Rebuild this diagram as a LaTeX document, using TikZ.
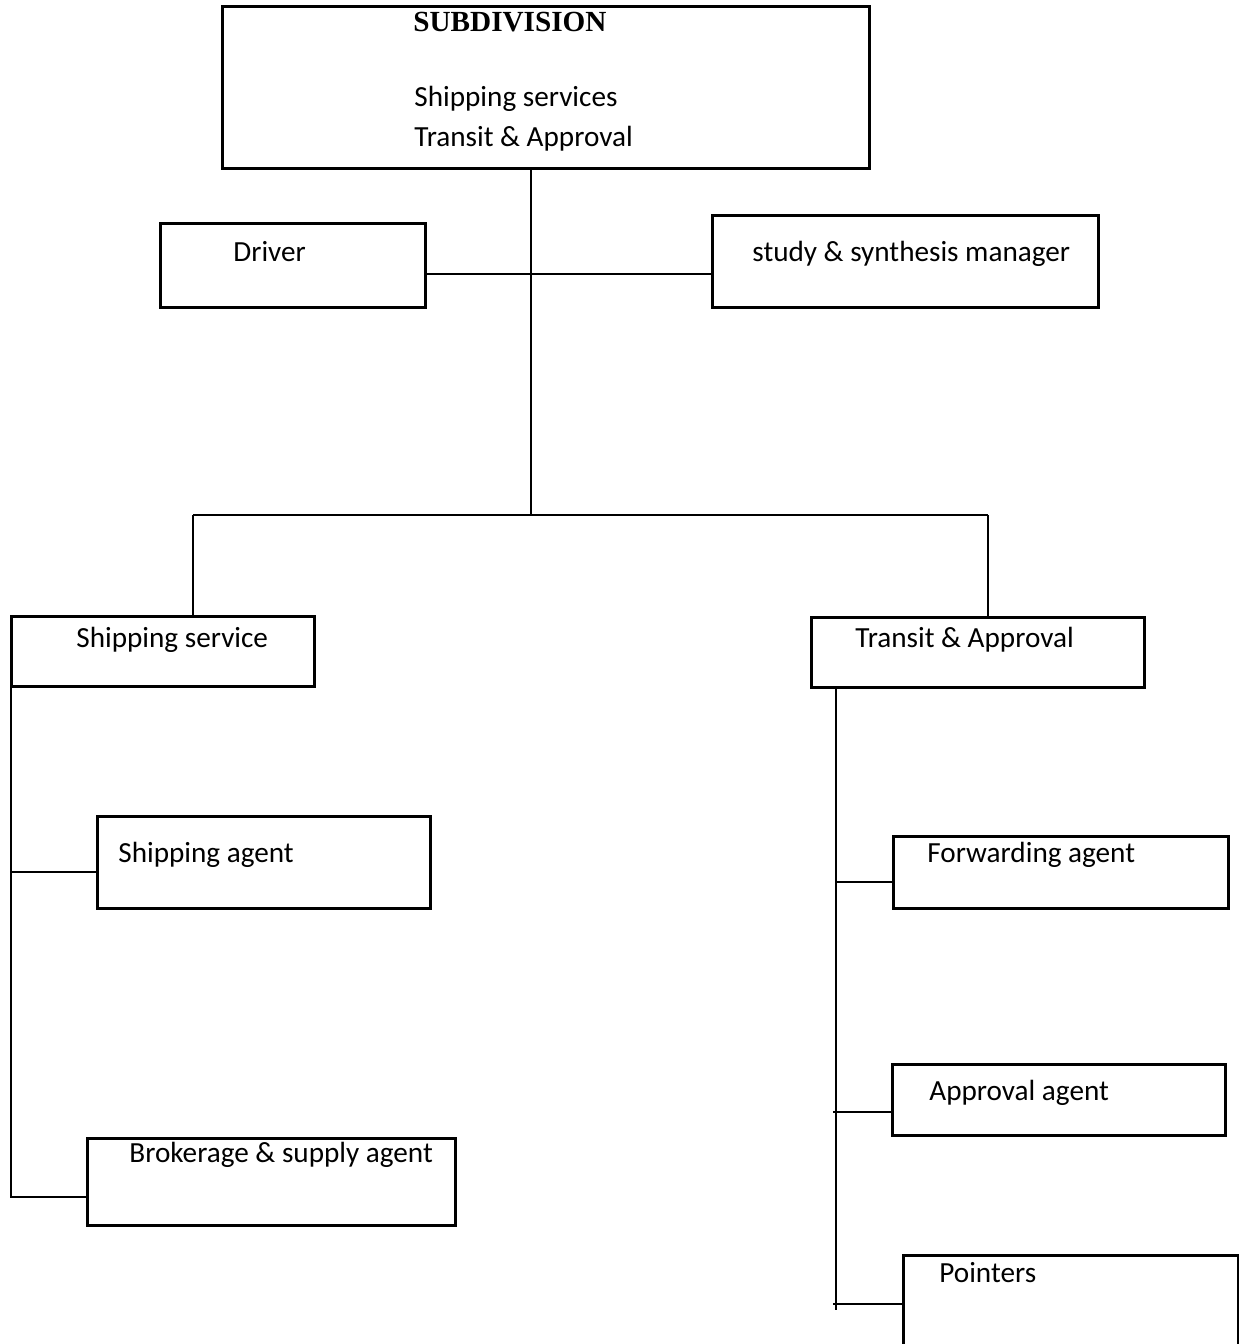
\documentclass[tikz,border=0pt]{standalone}
\usepackage{fontspec}
\setmainfont{Carlito}
\newfontfamily\timesbf{Liberation Serif}
\begin{document}
\begin{tikzpicture}[x=0.5pt,y=-0.5pt,
  box/.style={draw=black,line width=1.3pt,rectangle,inner sep=0pt,anchor=north west},
  txt/.style={anchor=base west,inner sep=0pt,font=\fontsize{14.6pt}{17pt}\selectfont},
  conn/.style={draw=black,line width=0.55pt}]
\useasboundingbox (0,0) rectangle (1238,1344);
% boxes
\node[box,minimum width=647*0.5pt,minimum height=162*0.5pt] (top) at (221,5) {};
\node[box,minimum width=265*0.5pt,minimum height=84*0.5pt] (drv) at (159,222) {};
\node[box,minimum width=386*0.5pt,minimum height=92*0.5pt] (ssm) at (711,214) {};
\node[box,minimum width=303*0.5pt,minimum height=70*0.5pt] (shs) at (10,615) {};
\node[box,minimum width=333*0.5pt,minimum height=70*0.5pt] (tra) at (810,616) {};
\node[box,minimum width=333*0.5pt,minimum height=92*0.5pt] (sha) at (96,815) {};
\node[box,minimum width=368*0.5pt,minimum height=87*0.5pt] (bro) at (86,1137) {};
\node[box,minimum width=335*0.5pt,minimum height=72*0.5pt] (fwd) at (892,835) {};
\node[box,minimum width=333*0.5pt,minimum height=71*0.5pt] (apr) at (891,1063) {};
\node[box,minimum width=335*0.5pt,minimum height=110*0.5pt] (ptr) at (902,1254) {};
% texts
\node[anchor=base west,inner sep=0pt,font=\timesbf\bfseries\fontsize{14.6pt}{17pt}\selectfont] (t0) at (413,31) {SUBDIVISION};
\node[txt] (t1) at (414,106) {Shipping services};
\node[txt] (t2) at (414,146) {Transit \& Approval};
\node[txt] (t3) at (233,261) {Driver};
\node[txt] (t4) at (752,261) {study \& synthesis manager};
\node[txt] (t5) at (76,647) {Shipping service};
\node[txt] (t6) at (855,647) {Transit \& Approval};
\node[txt] (t7) at (118,862) {Shipping agent};
\node[txt] (t8) at (129,1162) {Brokerage \& supply agent};
\node[txt] (t9) at (927,862) {Forwarding agent};
\node[txt] (t10) at (929,1100) {Approval agent};
\node[txt] (t11) at (939,1282) {Pointers};
% junction coordinates
\coordinate (jtop) at (531,274);
\coordinate (jmid) at (531,515);
\coordinate (jl) at (193,515);
\coordinate (jr) at (988,515);
\coordinate (lv1) at (11,686);
\coordinate (lv2) at (11,1198);
\coordinate (rv1) at (836,686);
\coordinate (rv2) at (836,1310);
% connectors
\draw[conn] (top.south -| jmid) -- (jmid);
\draw[conn] (drv.east |- jtop) -- (ssm.west |- jtop);
\draw[conn] (jl) -- (jr);
\draw[conn] (jl) -- (shs.north -| jl);
\draw[conn] (jr) -- (tra.north -| jr);
\draw[conn] (lv1) -- (lv2);
\draw[conn] (rv1) -- (rv2);
\draw[conn] (11,872) -- (sha.west |- 0,872);
\draw[conn] (11,1197) -- (bro.west |- 0,1197);
\draw[conn] (836,882) -- (fwd.west |- 0,882);
\draw[conn] (833,1112) -- (apr.west |- 0,1112);
\draw[conn] (833,1304) -- (ptr.west |- 0,1304);
\end{tikzpicture}
\end{document}
